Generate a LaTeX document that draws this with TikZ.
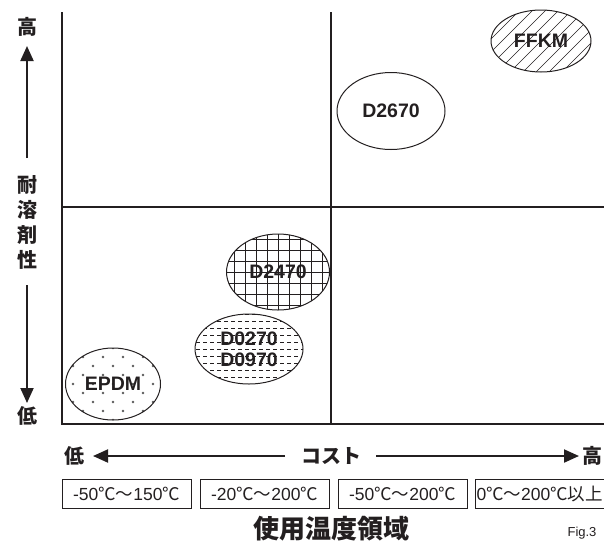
\documentclass[tikz,border=0pt]{standalone}
\usepackage{fontspec}
\setmainfont{Liberation Sans}
\newfontfamily\jp{Noto Sans CJK JP}
\usetikzlibrary{shapes.geometric,arrows.meta}
\definecolor{ink}{HTML}{231F20}
\tikzset{
  axisline/.style={draw=ink, line width=2pt},
  arr/.style={draw=ink, line width=2pt, -{Triangle[length=15pt,width=13pt]}},
  jpbig/.style={font=\jp\bfseries\fontsize{20}{20}\selectfont, text=ink, inner sep=0pt},
  ell/.style={ellipse, draw=ink, line width=1pt, inner sep=0pt, text=ink,
    font=\bfseries\fontsize{19.5}{20}\selectfont, align=center},
  hatch/.style={path picture={\foreach \i in {-130,-117,...,130}{\draw[ink, line width=0.6pt] (path picture bounding box.center) ++(\i-60,60) -- ++(120,-120);}}},
  gridfill/.style={path picture={\foreach \i in {-66,-55,...,66}{\draw[ink, line width=0.6pt] (path picture bounding box.center) ++(\i,-50) -- ++(0,100); \draw[ink, line width=0.6pt] (path picture bounding box.center) ++(-70,\i) -- ++(140,0);}}},
  dashfill/.style={path picture={\foreach \i in {-35,-28,...,35}{\draw[ink, line width=0.6pt, dash pattern=on 4pt off 3pt] (path picture bounding box.center) ++(-60,\i) -- ++(120,0);}}},
  dotfill/.style={path picture={\foreach \r in {-5,...,5}{\pgfmathsetmacro\off{mod(\r+10,2)*10}\foreach \c in {-3,...,3}{\fill[gray!70!black] (path picture bounding box.center) ++(\c*20+\off,\r*9) circle[radius=1.3];}}}},
  tbox/.style={draw=ink, line width=0.8pt, minimum width=129pt, minimum height=29pt, inner sep=0pt, text=ink, font=\fontsize{17.5}{17.5}\selectfont},
}
\newcommand{\dgc}{{\jp ℃}}
\newcommand{\wav}{{\jp ～}}
\begin{document}
\begin{tikzpicture}[x=1pt,y=-1pt]
\useasboundingbox (0,0) rectangle (604,542);
% axes
\coordinate (tl) at (62,12);
\coordinate (bl) at (62,424);
\coordinate (br) at (604,424);
\coordinate (mt) at (331,12);
\coordinate (mb) at (331,424);
\coordinate (ml) at (62,207);
\coordinate (mr) at (604,207);
\draw[axisline] (tl) -- (bl) -- (br);
\draw[axisline] (mt) -- (mb);
\draw[axisline] (ml) -- (mr);
% ellipses
\node[ell, hatch, minimum width=100pt, minimum height=62pt] (ffkm) at (541,41) {FFKM};
\node[ell, minimum width=108pt, minimum height=77pt] (d2670) at (391,111) {D2670};
\node[ell, gridfill, minimum width=103pt, minimum height=76pt] (d2470) at (278,272) {D2470};
\node[ell, dashfill, minimum width=108pt, minimum height=70pt] (d0270) at (249,349) {D0270\\[1pt]D0970};
\node[ell, dotfill, minimum width=95pt, minimum height=72pt] (epdm) at (113,384) {EPDM};
% left axis label
\node[jpbig] (yhi) at (27,27) {高};
\node[jpbig] (ylo) at (27,416) {低};
\node[jpbig, align=center, font=\jp\bfseries\fontsize{20}{25}\selectfont] (ylab) at (27,222) {耐\\溶\\剤\\性};
\coordinate (yupstart) at (27,158);
\coordinate (yuptip) at (27,46);
\coordinate (ydnstart) at (27,285);
\coordinate (ydntip) at (27,403);
\draw[arr] (yupstart) -- (yuptip);
\draw[arr] (ydnstart) -- (ydntip);
% bottom axis label
\node[jpbig] (xlo) at (74,456) {低};
\node[jpbig] (xhi) at (592,456) {高};
\node[jpbig] (xlab) at (331,456) {コスト};
\coordinate (xlstart) at (285,456);
\coordinate (xltip) at (93,456);
\coordinate (xrstart) at (376,456);
\coordinate (xrtip) at (579,456);
\draw[arr] (xlstart) -- (xltip);
\draw[arr] (xrstart) -- (xrtip);
% temperature boxes
\node[tbox] (b1) at (126.5,494) {-50\dgc\wav150\dgc};
\node[tbox] (b2) at (264.5,494) {-20\dgc\wav200\dgc};
\node[tbox] (b3) at (402.5,494) {-50\dgc\wav200\dgc};
\node[tbox, minimum width=131pt, text width=128pt, align=left] (b4) at (540.5,494) {0\dgc\wav200\dgc{\jp 以上}};
\node[jpbig, font=\jp\bfseries\fontsize{26}{26}\selectfont] (title) at (331,529) {使用温度領域};
\node[text=ink, font=\fontsize{13}{13}\selectfont, inner sep=0pt] (fig) at (582,533) {Fig.3};
\end{tikzpicture}
\end{document}
